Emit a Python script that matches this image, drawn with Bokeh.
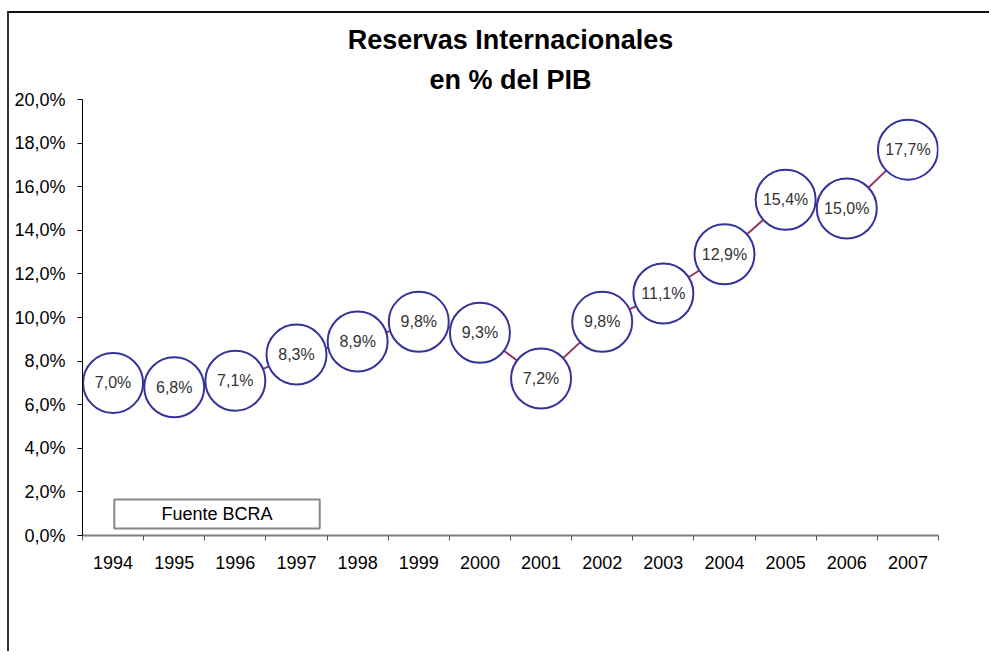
from bokeh.plotting import figure
from bokeh.models import (ColumnDataSource, FixedTicker, CustomJSTickFormatter, Title,
                          BoxAnnotation, Label, Range1d)
from bokeh.core.properties import value
from bokeh.embed import file_html
from bokeh.resources import INLINE

years = ["1994", "1995", "1996", "1997", "1998", "1999", "2000",
         "2001", "2002", "2003", "2004", "2005", "2006", "2007"]
reservas_pct = [7.0, 6.8, 7.1, 8.3, 8.9, 9.8, 9.3, 7.2, 9.8, 11.1, 12.9, 15.4, 15.0, 17.7]
y_ticks = [0, 2, 4, 6, 8, 10, 12, 14, 16, 18, 20]
title_lines = ["Reservas Internacionales", "en % del PIB"]
source_note = "Fuente BCRA"

FONT = "Liberation Sans"

xpos = [i + 0.5 for i in range(len(years))]
labels = [f"{v:.1f}%".replace(".", ",") for v in reservas_pct]
src = ColumnDataSource(dict(x=xpos, y=reservas_pct, label=labels))

p = figure(width=982, height=640, output_backend="svg", toolbar_location=None,
           x_range=Range1d(0, len(years)), y_range=Range1d(0, 20),
           min_border_left=73, min_border_right=53, min_border_top=86, min_border_bottom=118,
           styles={"margin-top": "11px", "margin-left": "7px",
                   "border-top": "2px solid #111111",
                   "border-left": "2px solid #333333"})
p.outline_line_color = None
p.xgrid.grid_line_color = None
p.ygrid.grid_line_color = None
p.background_fill_color = "white"
p.border_fill_color = "white"

# titles
t2 = Title(text=title_lines[1], align="center", text_font=FONT, text_font_size="27px",
           text_font_style="bold", text_color="black", standoff=10)
t1 = Title(text=title_lines[0], align="center", text_font=FONT, text_font_size="27px",
           text_font_style="bold", text_color="black", standoff=5)
p.add_layout(t2, "above")
p.add_layout(t1, "above")

# x axis
xa = p.xaxis[0]
xa.ticker = FixedTicker(ticks=xpos, minor_ticks=list(range(len(years) + 1)))
xa.formatter = CustomJSTickFormatter(args=dict(years=years),
                                     code="return years[Math.floor(tick)];")
xa.major_tick_in = 0
xa.major_tick_out = 0
xa.minor_tick_in = 0
xa.minor_tick_out = 5
xa.minor_tick_line_color = "#555555"
xa.axis_line_color = "#808080"
xa.axis_line_width = 2
xa.major_label_text_font = FONT
xa.major_label_text_font_size = "18px"
xa.major_label_text_color = "black"
xa.major_label_standoff = 15

# y axis
ya = p.yaxis[0]
ya.ticker = FixedTicker(ticks=y_ticks, minor_ticks=[])
ya.formatter = CustomJSTickFormatter(code="return tick.toFixed(1).replace('.', ',') + '%';")
ya.major_tick_in = 0
ya.major_tick_out = 5
ya.minor_tick_out = 0
ya.minor_tick_in = 0
ya.major_tick_line_color = "black"
ya.axis_line_color = "black"
ya.axis_line_width = 1
ya.major_label_text_font = FONT
ya.major_label_text_font_size = "18px"
ya.major_label_text_color = "black"
ya.major_label_standoff = 12

# data
p.line("x", "y", source=src, line_color="#993366", line_width=2)
p.scatter("x", "y", source=src, marker="circle", size=60, fill_color="white",
          line_color="#333399", line_width=2)
p.text("x", "y", text="label", source=src, text_align="center", text_baseline="middle",
       text_font=value(FONT), text_font_size="16px", text_color="#333333")

# source note box
box = BoxAnnotation(left=0.52, right=3.88, bottom=0.32, top=1.65, fill_color="white",
                    fill_alpha=1.0, line_color="#888888", line_alpha=1.0, line_width=2)
p.add_layout(box)
note = Label(x=2.2, y=0.985, text=source_note, text_align="center", text_baseline="middle",
             text_font=FONT, text_font_size="18px", text_color="black")
p.add_layout(note)

open("out.html", "w").write(file_html(p, INLINE))
